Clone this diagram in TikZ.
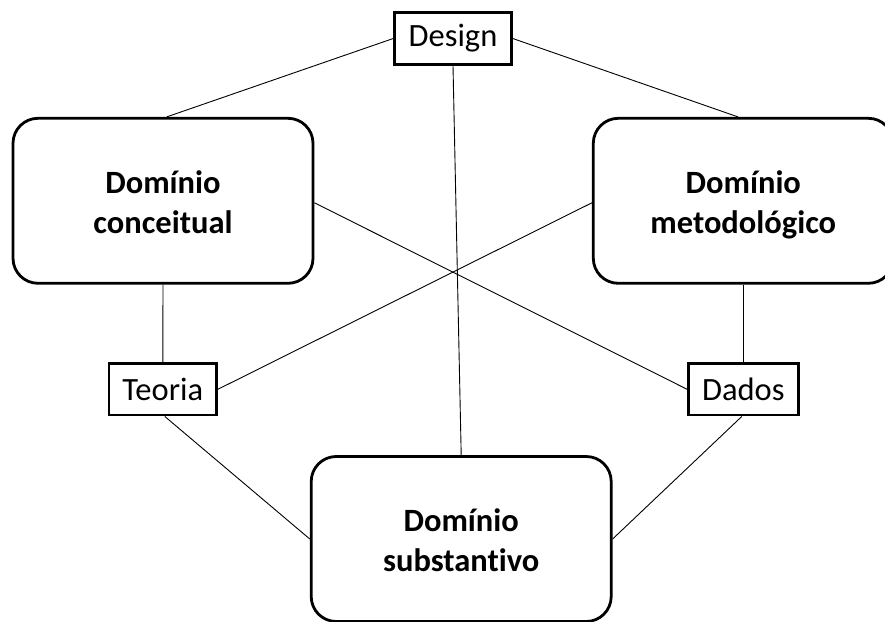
\documentclass[tikz,border=0pt]{standalone}
\usepackage{fontspec}
\setmainfont{Carlito}[Ligatures=NoCommon]
\begin{document}
\begin{tikzpicture}[x=1pt,y=-1pt,
  dom/.style={draw, line width=2.8pt, rounded corners=25pt,
    minimum width=300pt, minimum height=165pt, inner sep=0pt,
    align=center, text height=65pt, text depth=0pt,
    font=\fontsize{32.5}{40}\selectfont\bfseries},
  tag/.style={draw, line width=2.8pt, minimum height=51.7pt, inner sep=0pt,
    font=\fontsize{32.5}{40}\selectfont},
  link/.style={line width=0.9pt}]
\useasboundingbox (0,0) rectangle (885,621);
\clip (0,0) rectangle (885,621);

% the three domains
\node[dom] (conc) at (163,200.8) {Domínio\\conceitual};
\node[dom] (met)  at (743.3,200.8) {Domínio\\metodológico};
\node[dom] (subs) at (461.2,539) {Domínio\\substantivo};

% the three linking elements
\node[tag, minimum width=117.3pt] (design) at (453,38.6) {Design};
\node[tag, minimum width=107.7pt] (teoria) at (162.8,389.2) {Teoria};
\node[tag, minimum width=110pt]   (dados)  at (743.3,389.2) {Dados};

% connectors
\draw[link] (design.west) -- ([xshift=3.7pt]conc.north);
\draw[link] (design.east) -- ([xshift=-5.3pt]met.north);
\draw[link] (design.south) -- (subs.north);
\draw[link] ([yshift=-2pt]conc.east) -- (dados.west);
\draw[link] ([yshift=-2pt]met.west) -- (teoria.east);
\draw[link] (conc.south) -- (teoria.north);
\draw[link] (met.south) -- (dados.north);
\draw[link] ([xshift=2pt]teoria.south) -- (subs.west);
\draw[link] ([xshift=-1.5pt]dados.south) -- (subs.east);
\end{tikzpicture}
\end{document}
